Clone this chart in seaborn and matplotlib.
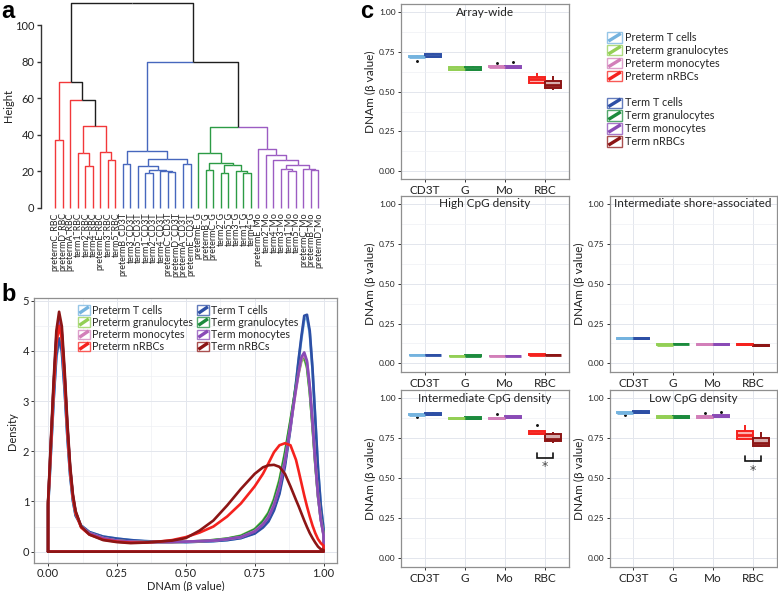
import numpy as np
import pandas as pd
import seaborn as sns
import matplotlib
matplotlib.use('Agg')
import matplotlib.pyplot as plt
from matplotlib.lines import Line2D
from matplotlib.patches import Rectangle
from matplotlib.legend_handler import HandlerBase
from matplotlib.ticker import MultipleLocator
from matplotlib.colors import to_rgb

# ---------------- panel a: dendrogram ----------------
leaf_labels = [
    'pretermC_RBC', 'pretermD_RBC', 'pretermA_RBC', 'term1_RBC', 'term2_RBC',
    'term4_RBC', 'pretermE_RBC', 'term3_RBC', 'term5_RBC',
    'pretermB_CD3T', 'term3_CD3T', 'term5_CD3T', 'term1_CD3T', 'term2_CD3T',
    'term4_CD3T', 'pretermC_CD3T', 'pretermD_CD3T', 'pretermA_CD3T', 'pretermE_CD3T',
    'pretermE_G', 'pretermB_G', 'pretermC_G', 'term2_G', 'term5_G', 'term3_G',
    'term1_G', 'term4_G',
    'pretermE_Mo', 'term2_Mo', 'term4_Mo', 'term3_Mo', 'term1_Mo', 'term5_Mo',
    'pretermC_Mo', 'pretermB_Mo', 'pretermD_Mo',
]
# (child 1, child 2, merge height, branch colour 1, branch colour 2); new nodes get ids 36, 37, ...
dendro_merges = [
    (0, 1, 37.2, 'r', 'r'), (4, 5, 22.7, 'r', 'r'), (3, 37, 30.2, 'r', 'r'),
    (7, 8, 26.4, 'r', 'r'), (6, 39, 30.4, 'r', 'r'), (38, 40, 44.6, 'r', 'r'),
    (2, 41, 59.0, 'r', 'k'), (36, 42, 68.8, 'r', 'k'),
    (9, 10, 24.3, 'b', 'b'), (12, 13, 19.1, 'b', 'b'), (15, 16, 19.6, 'b', 'b'),
    (14, 46, 20.4, 'b', 'b'), (45, 47, 21.0, 'b', 'b'), (11, 48, 22.7, 'b', 'b'),
    (17, 18, 24.2, 'b', 'b'), (49, 50, 26.9, 'b', 'b'), (44, 51, 30.9, 'b', 'b'),
    (20, 21, 20.5, 'g', 'g'), (22, 23, 19.3, 'g', 'g'), (25, 26, 19.2, 'g', 'g'),
    (24, 55, 20.2, 'g', 'g'), (54, 56, 23.3, 'g', 'g'), (53, 57, 24.5, 'g', 'g'),
    (19, 58, 30.0, 'g', 'g'),
    (31, 32, 20.0, 'p', 'p'), (30, 60, 21.5, 'p', 'p'), (34, 35, 20.5, 'p', 'p'),
    (33, 62, 21.5, 'p', 'p'), (61, 63, 23.3, 'p', 'p'), (29, 64, 26.0, 'p', 'p'),
    (28, 65, 29.1, 'p', 'p'), (27, 66, 32.0, 'p', 'p'),
    (59, 67, 44.2, 'g', 'p'), (52, 68, 80.0, 'b', 'k'), (43, 69, 112.0, 'k', 'k'),
]
dendro_colors = {'r': '#f2383a', 'b': '#4767bd', 'g': '#2c9b45', 'p': '#9c5cc2', 'k': '#1e1e1e'}

# ---------------- panel b: density curves ----------------
beta_grid = [0.0, 0.005, 0.01, 0.02, 0.03, 0.04, 0.05, 0.06, 0.07, 0.08, 0.09, 0.10,
             0.12, 0.15, 0.20, 0.25, 0.30, 0.35, 0.40, 0.45, 0.50,
             0.55, 0.60, 0.65, 0.70, 0.75, 0.78, 0.80, 0.82, 0.84, 0.86, 0.88,
             0.90, 0.91, 0.92, 0.93, 0.94, 0.95, 0.96, 0.97, 0.98, 0.99, 1.0]
dens_preterm_t = [0.88, 1.38, 1.93, 2.98, 3.86, 4.20, 3.96, 3.20, 2.28, 1.52, 1.01, 0.72,
                  0.52, 0.39, 0.30, 0.26, 0.23, 0.21, 0.20, 0.20, 0.19,
                  0.20, 0.21, 0.23, 0.27, 0.37, 0.50, 0.62, 0.85, 1.19, 1.75, 2.50,
                  3.35, 3.82, 4.25, 4.62, 4.66, 4.35, 3.62, 2.64, 1.66, 0.93, 0.46]
dens_term_t = [0.89, 1.40, 1.96, 3.02, 3.91, 4.25, 4.00, 3.23, 2.30, 1.53, 1.02, 0.72,
               0.52, 0.39, 0.30, 0.26, 0.23, 0.21, 0.20, 0.20, 0.19,
               0.20, 0.21, 0.23, 0.27, 0.36, 0.48, 0.60, 0.82, 1.15, 1.70, 2.45,
               3.35, 3.85, 4.30, 4.70, 4.72, 4.40, 3.65, 2.65, 1.65, 0.92, 0.45]
dens_preterm_g = [0.96, 1.50, 2.09, 3.23, 4.19, 4.55, 4.28, 3.46, 2.46, 1.64, 1.09, 0.77,
                  0.50, 0.37, 0.27, 0.22, 0.20, 0.19, 0.19, 0.19, 0.20,
                  0.21, 0.23, 0.26, 0.32, 0.45, 0.62, 0.78, 1.05, 1.44, 1.98, 2.62,
                  3.28, 3.56, 3.80, 3.85, 3.66, 3.18, 2.50, 1.76, 1.12, 0.66, 0.36]
dens_term_g = [0.97, 1.52, 2.12, 3.27, 4.23, 4.60, 4.32, 3.50, 2.48, 1.66, 1.10, 0.78,
               0.50, 0.37, 0.27, 0.22, 0.20, 0.19, 0.19, 0.19, 0.20,
               0.21, 0.23, 0.26, 0.31, 0.44, 0.60, 0.76, 1.02, 1.40, 1.95, 2.60,
               3.30, 3.60, 3.85, 3.90, 3.70, 3.20, 2.50, 1.75, 1.10, 0.65, 0.35]
dens_preterm_mo = [0.97, 1.52, 2.12, 3.27, 4.23, 4.60, 4.32, 3.50, 2.48, 1.66, 1.10, 0.78,
                   0.50, 0.37, 0.27, 0.22, 0.20, 0.19, 0.19, 0.19, 0.20,
                   0.21, 0.22, 0.25, 0.29, 0.41, 0.55, 0.70, 0.94, 1.30, 1.82, 2.50,
                   3.22, 3.56, 3.84, 3.93, 3.77, 3.28, 2.60, 1.80, 1.12, 0.64, 0.33]
dens_term_mo = [0.98, 1.53, 2.14, 3.30, 4.28, 4.65, 4.37, 3.53, 2.51, 1.67, 1.12, 0.79,
                0.50, 0.37, 0.27, 0.22, 0.20, 0.19, 0.19, 0.19, 0.20,
                0.21, 0.22, 0.25, 0.29, 0.40, 0.54, 0.68, 0.92, 1.28, 1.80, 2.50,
                3.25, 3.60, 3.88, 3.97, 3.80, 3.30, 2.60, 1.80, 1.12, 0.64, 0.33]
dens_preterm_rbc = [0.95, 1.49, 2.07, 3.20, 4.14, 4.50, 4.23, 3.42, 2.43, 1.62, 1.08, 0.77,
                    0.48, 0.34, 0.24, 0.20, 0.18, 0.18, 0.20, 0.23, 0.29,
                    0.38, 0.50, 0.70, 0.96, 1.30, 1.55, 1.76, 1.98, 2.12, 2.16, 2.12,
                    1.83, 1.60, 1.36, 1.12, 0.90, 0.70, 0.52, 0.37, 0.25, 0.17, 0.12]
dens_term_rbc = [1.00, 1.58, 2.20, 3.39, 4.40, 4.78, 4.49, 3.63, 2.58, 1.72, 1.15, 0.81,
                 0.50, 0.34, 0.23, 0.19, 0.17, 0.18, 0.20, 0.22, 0.27,
                 0.42, 0.62, 0.92, 1.25, 1.55, 1.68, 1.72, 1.73, 1.69, 1.55, 1.30,
                 1.03, 0.90, 0.76, 0.62, 0.49, 0.37, 0.27, 0.18, 0.10, 0.05, 0.03]

preterm_labels = ['Preterm T cells', 'Preterm granulocytes', 'Preterm monocytes', 'Preterm nRBCs']
term_labels = ['Term T cells', 'Term granulocytes', 'Term monocytes', 'Term nRBCs']
preterm_colors = ['#74b3df', '#93cf55', '#d27fb9', '#f5221e']
term_colors = ['#2d4fa5', '#1c8b3d', '#8a4bb6', '#8c1515']

# ---------------- panel c: per-sample beta values ----------------
cells = ['CD3T', 'G', 'Mo', 'RBC']
groups = ['Preterm', 'Term']
region_titles = ['Array-wide', 'High CpG density', 'Intermediate shore-associated',
                 'Intermediate CpG density', 'Low CpG density']
# order: CD3T, G, Mo, RBC
array_wide_preterm = [[0.695, 0.716, 0.721, 0.728, 0.731], [0.632, 0.636, 0.645, 0.655, 0.660],
                      [0.652, 0.654, 0.657, 0.660, 0.678], [0.553, 0.558, 0.578, 0.594, 0.620]]
array_wide_term = [[0.714, 0.718, 0.728, 0.738, 0.742], [0.628, 0.636, 0.645, 0.656, 0.660],
                   [0.645, 0.648, 0.655, 0.661, 0.684], [0.512, 0.523, 0.545, 0.565, 0.600]]
high_cpg_preterm = [[0.051, 0.052, 0.053, 0.054, 0.055], [0.046, 0.047, 0.048, 0.049, 0.050],
                    [0.046, 0.047, 0.048, 0.049, 0.050], [0.053, 0.054, 0.055, 0.056, 0.058]]
high_cpg_term = [[0.051, 0.052, 0.053, 0.054, 0.055], [0.047, 0.048, 0.049, 0.050, 0.051],
                 [0.045, 0.046, 0.047, 0.048, 0.049], [0.050, 0.052, 0.053, 0.054, 0.056]]
shore_preterm = [[0.153, 0.155, 0.157, 0.159, 0.160], [0.115, 0.117, 0.118, 0.120, 0.121],
                 [0.116, 0.118, 0.120, 0.121, 0.122], [0.116, 0.118, 0.120, 0.122, 0.123]]
shore_term = [[0.154, 0.156, 0.158, 0.161, 0.163], [0.118, 0.120, 0.122, 0.124, 0.125],
              [0.116, 0.118, 0.120, 0.122, 0.123], [0.107, 0.110, 0.113, 0.115, 0.118]]
int_cpg_preterm = [[0.882, 0.893, 0.896, 0.899, 0.903], [0.868, 0.871, 0.875, 0.879, 0.882],
                   [0.869, 0.872, 0.875, 0.878, 0.900], [0.775, 0.778, 0.785, 0.796, 0.832]]
int_cpg_term = [[0.892, 0.895, 0.902, 0.908, 0.912], [0.869, 0.872, 0.876, 0.881, 0.884],
                [0.874, 0.877, 0.882, 0.887, 0.891], [0.720, 0.733, 0.745, 0.780, 0.790]]
low_cpg_preterm = [[0.894, 0.906, 0.910, 0.913, 0.916], [0.878, 0.880, 0.886, 0.892, 0.895],
                   [0.878, 0.880, 0.884, 0.888, 0.908], [0.744, 0.746, 0.768, 0.795, 0.833]]
low_cpg_term = [[0.904, 0.907, 0.915, 0.922, 0.926], [0.877, 0.879, 0.885, 0.891, 0.894],
                [0.883, 0.886, 0.890, 0.895, 0.912], [0.695, 0.703, 0.720, 0.752, 0.790]]
# significance brackets (tick top, bar, asterisk) for RBC preterm vs term
sig_brackets = {'Intermediate CpG density': (0.656, 0.625, 0.594),
                'Low CpG density': (0.637, 0.610, 0.570)}

region_values = {
    'Array-wide': (array_wide_preterm, array_wide_term),
    'High CpG density': (high_cpg_preterm, high_cpg_term),
    'Intermediate shore-associated': (shore_preterm, shore_term),
    'Intermediate CpG density': (int_cpg_preterm, int_cpg_term),
    'Low CpG density': (low_cpg_preterm, low_cpg_term),
}

W, H = 778, 591
GRID_MAJOR = '#e3e6ed'
GRID_MINOR = '#eef0f4'
TEXT = '#222222'

sns.set_theme(style='white')
plt.rcParams['font.family'] = ['Lato', 'DejaVu Sans']
plt.rcParams['axes.unicode_minus'] = False


def tint(c, frac):
    rgb = np.array(to_rgb(c))
    return tuple(1 - frac * (1 - rgb))


class SquareKey(HandlerBase):
    """Legend key: outlined square crossed by a thick diagonal (ggplot density style)."""
    def create_artists(self, legend, orig_handle, xdescent, ydescent, width, height, fontsize, trans):
        c = orig_handle.get_color()
        x0, y0 = -xdescent, -ydescent
        box = Rectangle((x0, y0), width, height, facecolor='white',
                        edgecolor=tint(c, 0.75), lw=1.0, transform=trans)
        diag = Line2D([x0 + 1, x0 + width - 1], [y0 + 1, y0 + height - 1],
                      color=c, lw=2.4, solid_capstyle='butt', transform=trans)
        return [box, diag]


def add_axes_px(fig, left, top, right, bottom):
    return fig.add_axes([left / W, 1 - bottom / H, (right - left) / W, (bottom - top) / H])


def gg_frame(ax):
    ax.set_facecolor('white')
    for s in ax.spines.values():
        s.set_visible(True)
        s.set_color('#8f8f8f')
        s.set_linewidth(0.9)
    ax.set_axisbelow(True)
    ax.tick_params(which='major', length=2.2, width=0.7, color='#333333', pad=1.5,
                   labelcolor=TEXT, left=True, bottom=True)
    ax.tick_params(which='minor', length=0)


fig = plt.figure(figsize=(W / 100, H / 100), dpi=100)

# ---------- a ----------
ax_a = add_axes_px(fig, 40.7, 2, 326, 208)
xpos = list(range(len(leaf_labels)))
heights = [0.0] * len(leaf_labels)
for c1, c2, h, col1, col2 in dendro_merges:
    xn = (xpos[c1] + xpos[c2]) / 2
    for child, col in ((c1, col1), (c2, col2)):
        ax_a.plot([xpos[child], xpos[child], xn], [heights[child], h, h],
                  color=dendro_colors[col], lw=1.0, solid_capstyle='butt', clip_on=False)
    xpos.append(xn)
    heights.append(h)
ax_a.set_xlim(-1.9, 36)
ax_a.set_ylim(0, 112.6)
for side in ['top', 'right', 'bottom']:
    ax_a.spines[side].set_visible(False)
ax_a.spines['left'].set_bounds(0, 100)
ax_a.spines['left'].set_color('#333333')
ax_a.spines['left'].set_linewidth(1.0)
ax_a.set_yticks([0, 20, 40, 60, 80, 100])
ax_a.tick_params(axis='y', length=3, width=1.0, color='#333333', labelsize=8, pad=1.5,
                 labelcolor=TEXT, left=True)
ax_a.set_xticks(range(len(leaf_labels)))
ax_a.set_xticklabels(leaf_labels, rotation=90, fontsize=6.4, color=TEXT)
ax_a.tick_params(axis='x', length=0, pad=3)
ax_a.set_ylabel('Height', fontsize=8, color=TEXT, labelpad=1)
ax_a.set_facecolor('none')

# ---------- b ----------
ax_b = add_axes_px(fig, 34.3, 298.3, 337.3, 563.3)
gg_frame(ax_b)
density_series = [
    (dens_preterm_t, preterm_colors[0]), (dens_term_t, term_colors[0]),
    (dens_preterm_g, preterm_colors[1]), (dens_term_g, term_colors[1]),
    (dens_preterm_mo, preterm_colors[2]), (dens_term_mo, term_colors[2]),
    (dens_preterm_rbc, preterm_colors[3]), (dens_term_rbc, term_colors[3]),
]
for ys, col in density_series:
    # closed outline like geom_density: curve, drop to baseline, back along the baseline
    px = [beta_grid[0]] + beta_grid + [beta_grid[-1], beta_grid[0]]
    py = [0.0] + ys + [0.0, 0.0]
    sns.lineplot(x=px, y=py, sort=False, estimator=None, color=col, lw=1.9, ax=ax_b)
ax_b.set_xlim(-0.05, 1.05)
ax_b.set_ylim(-0.232, 5.048)
ax_b.set_xticks([0, 0.25, 0.5, 0.75, 1.0])
ax_b.set_xticklabels(['0.00', '0.25', '0.50', '0.75', '1.00'])
ax_b.set_yticks([0, 1, 2, 3, 4, 5])
ax_b.xaxis.set_minor_locator(MultipleLocator(0.125))
ax_b.yaxis.set_minor_locator(MultipleLocator(0.5))
ax_b.grid(True, which='major', color=GRID_MAJOR, lw=0.7)
ax_b.grid(True, which='minor', color=GRID_MINOR, lw=0.5)
ax_b.tick_params(labelsize=8)
ax_b.set_xlabel('DNAm (β value)', fontsize=8, color=TEXT, labelpad=1)
ax_b.set_ylabel('Density', fontsize=8, color=TEXT, labelpad=3)

leg_kw = dict(frameon=False, handler_map={Line2D: SquareKey()}, fontsize=7.7,
              handlelength=1.15, handleheight=0.95, handletextpad=0.2,
              labelspacing=0.1, borderpad=0, borderaxespad=0, loc='upper left')
leg1 = ax_b.legend([Line2D([], [], color=c) for c in preterm_colors], preterm_labels,
                   bbox_to_anchor=(0.144, 0.976), **leg_kw)
ax_b.add_artist(leg1)
ax_b.legend([Line2D([], [], color=c) for c in term_colors], term_labels,
            bbox_to_anchor=(0.537, 0.976), **leg_kw)

# ---------- c ----------
panel_px = {
    'Array-wide': (401, 4, 569, 179.5),
    'High CpG density': (401, 195.7, 569, 371.7),
    'Intermediate shore-associated': (609.5, 195.7, 776.7, 371.7),
    'Intermediate CpG density': (401, 390, 569, 566.7),
    'Low CpG density': (609.5, 390, 776.7, 566.7),
}
for title in region_titles:
    ax = add_axes_px(fig, *panel_px[title])
    pre_vals, term_vals = region_values[title]
    for ci, cell in enumerate(cells):
        for grp, vals, col in (('Preterm', pre_vals[ci], preterm_colors[ci]),
                               ('Term', term_vals[ci], term_colors[ci])):
            df = pd.DataFrame({'cell': cell, 'group': grp, 'value': vals})
            sns.boxplot(data=df, x='cell', y='value', hue='group', order=cells, hue_order=groups,
                        palette=[tint(col, 0.35), tint(col, 0.35)], linecolor=col, saturation=1,
                        width=0.8, gap=0, dodge=True, linewidth=1.4, fliersize=1.1,
                        showcaps=False, legend=False, ax=ax,
                        medianprops={'linewidth': 2.0},
                        flierprops={'marker': 'o', 'markerfacecolor': '#111111',
                                    'markeredgecolor': '#111111'})
    gg_frame(ax)
    ax.set_xlim(-0.6, 3.6)
    ax.set_ylim(-0.052, 1.052)
    ax.set_yticks([0, 0.25, 0.5, 0.75, 1.0])
    ax.set_yticklabels(['0.00', '0.25', '0.50', '0.75', '1.00'])
    ax.yaxis.set_minor_locator(MultipleLocator(0.125))
    ax.grid(True, which='major', axis='both', color=GRID_MAJOR, lw=0.7)
    ax.grid(True, which='minor', axis='y', color=GRID_MINOR, lw=0.5)
    ax.tick_params(axis='y', labelsize=6)
    ax.tick_params(axis='x', labelsize=8.5, pad=2)
    ax.set_xlabel('')
    ax.set_ylabel('DNAm (β value)', fontsize=8.5, color=TEXT, labelpad=2)
    ax.text(0.5, 0.985, title, transform=ax.transAxes, ha='center', va='top',
            fontsize=8.5, color=TEXT)
    if title in sig_brackets:
        y_tick, y_bar, y_star = sig_brackets[title]
        x_pre, x_term = cells.index('RBC') - 0.2, cells.index('RBC') + 0.2
        ax.plot([x_pre, x_pre, x_term, x_term], [y_tick, y_bar, y_bar, y_tick],
                color='#111111', lw=1.2, solid_joinstyle='miter')
        ax.text((x_pre + x_term) / 2, y_star - 0.02, '*', ha='center', va='center',
                fontsize=9, family='DejaVu Sans', color='#444444')

leg_c = dict(frameon=False, handler_map={Line2D: SquareKey()}, fontsize=7.8,
             handlelength=1.4, handleheight=1.1, handletextpad=0.25,
             labelspacing=0.17, borderpad=0, borderaxespad=0, loc='upper left')
fig.legend([Line2D([], [], color=c) for c in preterm_colors], preterm_labels,
           bbox_to_anchor=(607 / W, 1 - 32 / H), **leg_c)
fig.legend([Line2D([], [], color=c) for c in term_colors], term_labels,
           bbox_to_anchor=(607 / W, 1 - 97.5 / H), **leg_c)

# panel letters
for letter, x, y in (('a', 1, 0), ('b', 1, 283), ('c', 360, 0)):
    fig.text(x / W, 1 - y / H, letter, fontsize=17, fontweight='bold',
             family=['Liberation Sans', 'DejaVu Sans'], va='top', ha='left', color='black')

fig.savefig('out.png', dpi=100)
